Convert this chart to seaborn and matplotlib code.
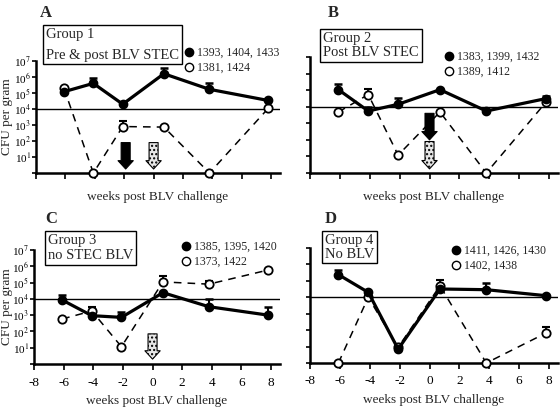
import numpy as np
import matplotlib
matplotlib.use("Agg")
import matplotlib.pyplot as plt
import seaborn as sns
from matplotlib.lines import Line2D

# ---- data (CFU per gram; 1 = below detection) ----
weeks = [-6.1, -4.1, -2.1, 0.7, 3.8, 7.8]

a_filled = [1.2e5, 4e5, 2e4, 1.6e6, 1.7e5, 3.4e4]
a_filled_up = [np.nan, 8.5e5, np.nan, 3.5e6, 4e5, np.nan]
a_open = [2e5, 1, 8e2, 7.4e2, 1, 1.1e4]
a_open_up = [np.nan, np.nan, 1.9e3, np.nan, np.nan, np.nan]

b_filled = [1.07e5, 5.5e3, 1.4e4, 1.07e5, 5.5e3, 3.1e4]
b_filled_up = [2.2e5, 1e4, 3.4e4, np.nan, np.nan, 4.5e4]
b_open = [4.8e3, 5.4e4, 12, 4.8e3, 1, 1.9e4]
b_open_up = [np.nan, 1.2e5, np.nan, np.nan, np.nan, np.nan]

c_filled = [8.5e3, 9.3e2, 7.3e2, 2.4e4, 3.3e3, 1e3]
c_filled_up = [1.7e4, np.nan, 1.6e3, np.nan, 9.3e3, 3e3]
c_open = [5.8e2, 1.8e3, 11.5, 1.1e5, 8e4, 5.9e5]
c_open_up = [np.nan, 3e3, np.nan, 2.5e5, 1.3e5, np.nan]

d_filled = [2.4e5, 2e4, 7, 3.2e4, 2.9e4, 1.25e4]
d_filled_up = [4.8e5, np.nan, np.nan, np.nan, 7.4e4, np.nan]
d_open = [1, 1e4, 9, 5e4, 1, 67]
d_open_up = [np.nan, np.nan, np.nan, 1.2e5, np.nan, 1.5e2]

panel_letters = ["A", "B", "C", "D"]
group_titles = ["Group 1\nPre & post BLV STEC", "Group 2\nPost BLV STEC",
                "Group 3\nno STEC BLV", "Group 4\nNo BLV"]
filled_labels = ["1393, 1404, 1433", "1383, 1399, 1432", "1385, 1395, 1420", "1411, 1426, 1430"]
open_labels = ["1381, 1424", "1389, 1412", "1373, 1422", "1402, 1438"]

# arrows: (week, top, bottom)
black_arrows = [[(-1.9, 10**1.9, 10**0.25)], [(0.0, 10**3.6, 10**2.0)], [], []]
dotted_arrows = [[(0.0, 10**1.9, 10**0.25)], [(0.0, 10**1.9, 10**0.25)], [(0.0, 10**1.85, 10**0.3)], []]

y_ticks = [1, 1e1, 1e2, 1e3, 1e4, 1e5, 1e6, 1e7]
y_ticklabels = ["", "10$^{1}$", "10$^{2}$", "10$^{3}$", "10$^{4}$", "10$^{5}$", "10$^{6}$", "10$^{7}$"]
x_ticks = [-8, -6, -4, -2, 0, 2, 4, 6, 8]
threshold = 1e4

sns.set_style("ticks")
plt.rcParams["font.family"] = ["Liberation Serif", "DejaVu Serif"]
plt.rcParams["mathtext.fontset"] = "stix"

fig = plt.figure(figsize=(5.6, 4.07), dpi=100)

W, H = 560, 407
# axes boxes in pixels: left, top, right, bottom
boxes = [(36, 61, 280, 173), (310, 57, 558, 173), (34, 250, 280, 364), (310, 248, 558, 363)]
title_pos = [(46, 28), (323, 32), (48, 234), (325, 234)]
title_spacing = [1.75, 1.1, 1.2, 1.05]
letter_pos = [(40, 13), (328, 13), (45, 219), (325, 219)]
legend_pos = [(185, 47), (445, 51), (182, 241), (452, 245)]

filled_data = [(a_filled, a_filled_up), (b_filled, b_filled_up), (c_filled, c_filled_up), (d_filled, d_filled_up)]
open_data = [(a_open, a_open_up), (b_open, b_open_up), (c_open, c_open_up), (d_open, d_open_up)]

for i in range(4):
    l, t, r, b = boxes[i]
    ax = fig.add_axes([l / W, 1 - b / H, (r - l) / W, (b - t) / H])
    ax.set_yscale("log")
    ax.set_ylim(1, 1e7)
    ax.set_xlim(-8, 8.6)
    ax.axhline(threshold, color="black", lw=1.0, zorder=1)

    fv, fu = filled_data[i]
    ov, ou = open_data[i]

    # open circles, dashed
    sns.lineplot(x=weeks, y=ov, ax=ax, color="black", linestyle=(0, (5, 4)), lw=1.1,
                 marker="o", markersize=6, markerfacecolor="white", markeredgecolor="black",
                 markeredgewidth=1.3, clip_on=False, zorder=3)
    up = np.array(ou) - np.array(ov)
    ax.errorbar(weeks, ov, yerr=[np.zeros(6), up], fmt="none", ecolor="black",
                elinewidth=1.3, capsize=3, capthick=1.5, zorder=2)

    # filled circles, solid
    sns.lineplot(x=weeks, y=fv, ax=ax, color="black", linestyle="-", lw=2.3,
                 marker="o", markersize=6, markerfacecolor="black", markeredgecolor="black",
                 markeredgewidth=1, clip_on=False, zorder=4)
    up = np.array(fu) - np.array(fv)
    ax.errorbar(weeks, fv, yerr=[np.zeros(6), up], fmt="none", ecolor="black",
                elinewidth=1.5, capsize=3, capthick=1.8, zorder=2)

    for (xw, y0, y1) in black_arrows[i]:
        ax.annotate("", xy=(xw, y1), xytext=(xw, y0),
                    arrowprops=dict(arrowstyle="simple,head_width=1.1,head_length=0.6,tail_width=0.65",
                                    fc="black", ec="black", lw=0.8, shrinkA=0, shrinkB=0))
    for (xw, y0, y1) in dotted_arrows[i]:
        ax.annotate("", xy=(xw, y1), xytext=(xw, y0),
                    arrowprops=dict(arrowstyle="simple,head_width=1.1,head_length=0.6,tail_width=0.65",
                                    fc="#e6e6e6", ec="black", lw=0.8, hatch="....",
                                    shrinkA=0, shrinkB=0))

    sns.despine(ax=ax)
    for s in ["left", "bottom"]:
        ax.spines[s].set_linewidth(1.8)
        ax.spines[s].set_color("black")
    ax.set_yticks(y_ticks)
    ax.yaxis.set_minor_locator(matplotlib.ticker.NullLocator())
    ax.set_xticks(x_ticks)
    ax.tick_params(axis="y", direction="out", length=3, width=1.2, colors="black",
                   labelsize=8, pad=0.5)
    ax.tick_params(axis="x", direction="out", length=4, width=1.2, colors="black",
                   labelsize=9.5, pad=5)
    if i % 2 == 0:
        ax.set_yticklabels(y_ticklabels)
        ax.set_ylabel("CFU per gram", fontsize=9.5)
        ax.yaxis.set_label_coords((13 - l) / (r - l), 0.5)
    else:
        ax.set_yticklabels([])
        ax.set_ylabel("")
    if i >= 2:
        ax.set_xticklabels([str(v) for v in x_ticks])
    else:
        ax.set_xticklabels([])
    ax.set_xlabel("weeks post BLV challenge", fontsize=9.5, labelpad=5 if i >= 2 else 4)

    handles = [Line2D([], [], marker="o", color="black", ls="none", markersize=6),
               Line2D([], [], marker="o", color="black", ls="none", markersize=6,
                      markerfacecolor="white", markeredgewidth=1)]
    lx, ly = legend_pos[i]
    ax.legend(handles, [filled_labels[i], open_labels[i]], loc="upper left",
              bbox_to_anchor=(lx / W, 1 - ly / H), bbox_transform=fig.transFigure,
              frameon=False, fontsize=8.5, handlelength=0.6, handletextpad=0.4,
              labelspacing=0.25, borderpad=0, borderaxespad=0)

    tx, ty = title_pos[i]
    fig.text(tx / W, 1 - ty / H, group_titles[i], ha="left", va="top", fontsize=10.5,
             linespacing=title_spacing[i], zorder=10,
             bbox=dict(boxstyle="square,pad=0.2", fc="white", ec="black", lw=1))
    px, py = letter_pos[i]
    fig.text(px / W, 1 - py / H, panel_letters[i], ha="left", va="center",
             fontsize=12, fontweight="bold")

fig.savefig("out.png", dpi=100)
